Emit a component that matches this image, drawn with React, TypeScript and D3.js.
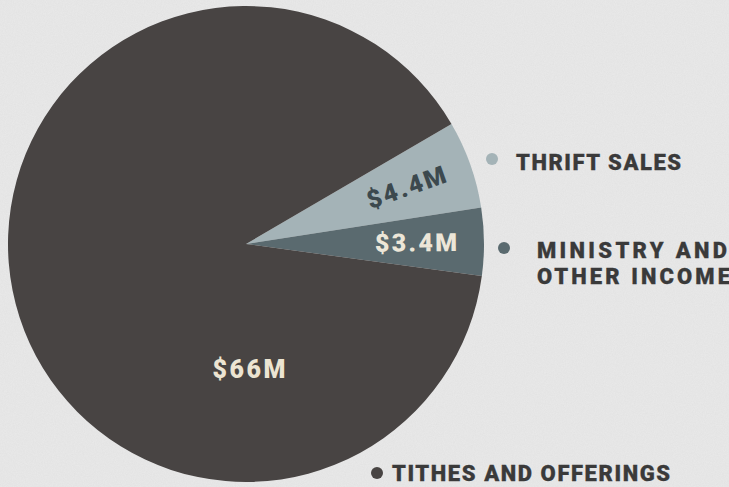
import { useEffect } from 'react'
import * as d3 from 'd3'

// slice data, in drawing order (clockwise from the upper-right edge)
const categories = ['THRIFT SALES', 'MINISTRY AND OTHER INCOME', 'TITHES AND OFFERINGS']
const values = [4.4, 3.4, 66]
const valueLabels = ['$4.4M', '$3.4M', '$66M']
const legendLines = [['THRIFT SALES'], ['MINISTRY AND', 'OTHER INCOME'], ['TITHES AND OFFERINGS']]

const colors = ['#a4b3b7', '#5a6a6f', '#484443']
const valueColors = ['#3c494e', '#ece6d8', '#ece4d2']

const W = 729
const H = 487
const cx = 246
const cy = 244
const radius = 238
const FONT = 'Roboto, "DejaVu Sans", sans-serif'

export default function App() {
  useEffect(() => {
    document.body.style.margin = '0'
  }, [])

  const start = (59.7 * Math.PI) / 180
  const pie = d3
    .pie<number>()
    .sort(null)
    .value((d) => d)
    .startAngle(start)
    .endAngle(start + Math.PI * 2)
  const arcs = pie(values)

  const arc = d3.arc<d3.PieArcDatum<number>>().innerRadius(0).outerRadius(radius)
  const labelArc = d3.arc<d3.PieArcDatum<number>>().innerRadius(170).outerRadius(170)

  // legend placement for each category
  const legendPos = [
    { dx: 492, dy: 159, tx: 516, ty: 170, widths: [165] },
    { dx: 504, dy: 248, tx: 537, ty: 258, widths: [190, 193] },
    { dx: 377, dy: 473, tx: 392, ty: 481, widths: [278] },
  ]
  const valueWidths = [82, 82, 73]

  return (
    <svg width={W} height={H} style={{ display: 'block' }}>
      <defs>
        <filter id="paper" x="0" y="0" width="100%" height="100%">
          <feTurbulence type="fractalNoise" baseFrequency="0.9" numOctaves={3} seed={4} />
          <feColorMatrix
            type="matrix"
            values="0 0 0 0 0.5  0 0 0 0 0.5  0 0 0 0 0.5  0 0 0 -1.4 1.1"
          />
        </filter>
      </defs>
      <rect width={W} height={H} fill="#e8e8e8" />
      <rect width={W} height={H} filter="url(#paper)" opacity={0.12} />

      <g transform={`translate(${cx},${cy})`}>
        {arcs.map((a, i) => (
          <path key={categories[i]} d={arc(a) ?? ''} fill={colors[i]} />
        ))}
        {arcs.map((a, i) => {
          let x: number
          let y: number
          let rot = 0
          if (i === 2) {
            // big slice label sits below the centre
            x = 3
            y = 125
          } else {
            ;[x, y] = labelArc.centroid(a)
            rot = (((a.startAngle + a.endAngle) / 2) * 180) / Math.PI - 90
          }
          return (
            <text
              key={valueLabels[i]}
              transform={`translate(${x},${y}) rotate(${rot})`}
              textAnchor="middle"
              dy="0.36em"
              fill={valueColors[i]}
              fontFamily={FONT}
              fontWeight={900}
              fontSize={25}
              textLength={valueWidths[i]}
            >
              {valueLabels[i]}
            </text>
          )
        })}
      </g>

      {legendPos.map((p, i) => (
        <g key={categories[i]}>
          <circle cx={p.dx} cy={p.dy} r={6} fill={colors[i]} />
          {legendLines[i].map((line, j) => (
            <text
              key={line}
              x={p.tx}
              y={p.ty + j * 26}
              fill="#3a3a3a"
              stroke="#3a3a3a"
              strokeWidth={0.3}
              fontFamily={FONT}
              fontWeight={900}
              fontSize={22}
              textLength={p.widths[j]}
            >
              {line}
            </text>
          ))}
        </g>
      ))}
    </svg>
  )
}
